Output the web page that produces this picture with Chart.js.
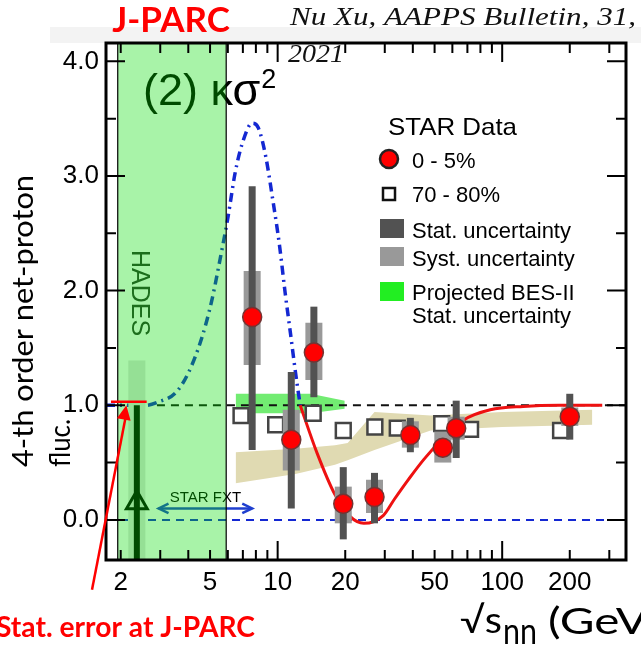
<!DOCTYPE html>
<html>
<head>
<meta charset="utf-8">
<script src="https://cdn.jsdelivr.net/npm/chart.js@4.4.1/dist/chart.umd.min.js"></script>
<style>
  html, body { margin: 0; padding: 0; background: #fff; }
  #wrap { width: 641px; height: 649px; position: relative; }
</style>
</head>
<body>
<div id="wrap"><canvas id="kappaChart"></canvas></div>
<script>
// STAR 0-5% central (red circles)
const ENERGY = [7.7, 11.5, 14.5, 19.6, 27, 39, 54.4, 62.4, 200];
const KS2_CENTRAL = [1.77, 0.70, 1.46, 0.14, 0.20, 0.74, 0.63, 0.80, 0.90];
const STAT_LOW  = [0.61, 0.10, 1.07, -0.17, -0.03, 0.59, 0.56, 0.54, 0.70];
const STAT_HIGH = [2.91, 1.29, 1.86, 0.46, 0.41, 0.89, 0.70, 1.04, 1.10];
const SYST_LOW  = [1.35, 0.43, 1.22, -0.03, 0.06, 0.63, 0.50, 0.70, 0.82];
const SYST_HIGH = [2.17, 0.96, 1.72, 0.29, 0.35, 0.86, 0.77, 0.90, 0.98];

// STAR 70-80% peripheral (open squares)
const ENERGY_PERIPH = [6.87, 9.8, 14.4, 19.6, 27.1, 34.1, 53.8, 72.3, 182];
const KS2_PERIPH = [0.91, 0.83, 0.93, 0.78, 0.81, 0.80, 0.84, 0.79, 0.78];

// J-PARC projection
const JPARC_E = [2.36];
const JPARC_K = [0.15];
const JPARC_STAT = [-0.7, 1.0];
const JPARC_SYST = [-1.1, 1.39];
const JPARC_RANGE = [1.94, 5.9];

// blue dash-dot model curve
const MODEL_E = [1.72, 2.6, 2.96, 3.52, 4.02, 4.58, 5.07, 5.55, 6.02, 6.47, 7.0, 7.7, 8.2, 8.85, 9.5, 10.2, 10.8, 11.4, 12.0, 12.6];
const MODEL_K = [1.0, 1.0, 1.03, 1.11, 1.29, 1.58, 1.90, 2.28, 2.65, 3.03, 3.30, 3.46, 3.42, 3.17, 2.80, 2.39, 1.98, 1.63, 1.29, 1.0];

// red fit curve
const FIT_E = [12.6, 15.0, 18.0, 21.0, 24.2, 29.6, 33.1, 38.5, 44.9, 53.3, 67.3, 88.5, 124, 180, 279];
const FIT_K = [1.0, 0.58, 0.22, 0.03, -0.03, 0.04, 0.18, 0.36, 0.53, 0.69, 0.87, 0.96, 0.99, 1.0, 1.0];

// tan band
const BAND_E  = [6.5, 12, 18, 20.5, 27, 48, 100, 252];
const BAND_HI = [0.59, 0.62, 0.65, 0.67, 0.94, 0.91, 0.94, 0.96];
const BAND_LO = [0.32, 0.40, 0.48, 0.52, 0.61, 0.78, 0.81, 0.83];

// projected BES-II band
const BES2_E  = [6.5, 14, 19.9];
const BES2_HI = [1.10, 1.10, 1.04];
const BES2_LO = [0.93, 0.93, 0.97];

// reference lines
const UNITY_E = [2.9, 356];
const ZERO_E = [1.72, 356];
const FXT_RANGE = [2.95, 7.7];
const FXT_LEVEL = 0.1;

// axes
const X_LABELS = [2, 5, 10, 20, 50, 100, 200];
const X_MAJOR = [10, 100];
const X_MINOR = [2, 3, 4, 5, 6, 7, 8, 9, 20, 30, 40, 50, 60, 70, 80, 90, 200, 300];
const Y_LABELS = [0, 1, 2, 3, 4];
const Y_MINOR = [0.5, 1.5, 2.5, 3.5];

const LEGEND_LABELS = ['0 - 5%', '70 - 80%', 'Stat. uncertainty', 'Syst. uncertainty', 'Projected BES-II', 'Stat. uncertainty'];

const COLORS = {
    stat: '#525252',
    syst: '#999999',
    red: '#ff0000',
    blue: '#1428d2',
    tan: '#e0dab2',
    bes: '#72ec72',
    jparc: 'rgba(0, 220, 0, 0.34)'
};

const pts = (xs, ys) => xs.map((x, i) => ({ x: x, y: ys[i] }));

// 세로 막대 (오차 막대)
function bar(x, lo, hi, color, width, order) {
    return {
        data: [{ x: x, y: lo }, { x: x, y: hi }],
        borderColor: color,
        borderWidth: width,
        borderCapStyle: 'butt',
        pointRadius: 0,
        showLine: true,
        fill: false,
        clip: 0,
        order: order
    };
}

const datasets = [];

// bands
datasets.push({ data: pts(BAND_E, BAND_HI), borderWidth: 0, pointRadius: 0, fill: '+1', backgroundColor: COLORS.tan, order: 100, clip: 0 });
datasets.push({ data: pts(BAND_E, BAND_LO), borderWidth: 0, pointRadius: 0, fill: false, order: 101, clip: 0 });
datasets.push({ data: pts(BES2_E, BES2_HI), borderWidth: 0, pointRadius: 0, fill: '+1', backgroundColor: COLORS.bes, order: 98, clip: 0 });
datasets.push({ data: pts(BES2_E, BES2_LO), borderWidth: 0, pointRadius: 0, fill: false, order: 99, clip: 0 });

// dashed lines
datasets.push({ data: pts(UNITY_E, [1, 1]), borderColor: '#111', borderWidth: 2, borderDash: [8, 6], pointRadius: 0, fill: false, order: 90, clip: 0 });
datasets.push({ data: pts(ZERO_E, [0, 0]), borderColor: COLORS.blue, borderWidth: 2, borderDash: [8, 6], pointRadius: 0, fill: false, order: 90, clip: 0 });

// curves
datasets.push({ data: pts(MODEL_E, MODEL_K), borderColor: COLORS.blue, borderWidth: 3.5, borderDash: [9, 5, 2, 5], cubicInterpolationMode: 'monotone', pointRadius: 0, fill: false, order: 80, clip: 0 });
datasets.push({ data: pts(FIT_E, FIT_K), borderColor: '#ee1111', borderWidth: 3, cubicInterpolationMode: 'monotone', pointRadius: 0, fill: false, order: 79, clip: 0 });

// peripheral squares
datasets.push({ data: pts(ENERGY_PERIPH, KS2_PERIPH), showLine: false, pointStyle: 'rect', pointRadius: 10.5, backgroundColor: '#ffffff', borderColor: '#444', borderWidth: 2.5, order: 60, clip: 0 });

// error bars
ENERGY.forEach((e, i) => {
    datasets.push(bar(e, SYST_LOW[i], SYST_HIGH[i], COLORS.syst, 17, 50));
    datasets.push(bar(e, STAT_LOW[i], STAT_HIGH[i], COLORS.stat, 7, 40));
});

// central circles
datasets.push({ data: pts(ENERGY, KS2_CENTRAL), showLine: false, pointStyle: 'circle', pointRadius: 9.5, backgroundColor: COLORS.red, borderColor: '#743434', borderWidth: 1.5, order: 10, clip: 0 });

// J-PARC projection (drawn under the green band)
datasets.push(bar(JPARC_E[0], JPARC_SYST[0], JPARC_SYST[1], '#e2e2e2', 17, 30));
datasets.push(bar(JPARC_E[0], JPARC_STAT[0], JPARC_STAT[1], '#000000', 6, 20));
datasets.push({ data: pts(JPARC_E, JPARC_K), showLine: false, pointStyle: 'triangle', pointRadius: 12, backgroundColor: 'rgba(0,0,0,0)', borderColor: '#000', borderWidth: 3, order: 5, clip: 0 });

function arrowHead(ctx, x0, y0, x1, y1, size, open) {
    const ang = Math.atan2(y1 - y0, x1 - x0);
    ctx.beginPath();
    ctx.moveTo(x1 - size * Math.cos(ang - 0.45), y1 - size * Math.sin(ang - 0.45));
    ctx.lineTo(x1, y1);
    ctx.lineTo(x1 - size * Math.cos(ang + 0.45), y1 - size * Math.sin(ang + 0.45));
    if (open) {
        ctx.stroke();
    } else {
        ctx.closePath();
        ctx.fill();
    }
}

// 텍스트를 주어진 폭에 맞춰 가로로 늘림/줄임
function fitText(ctx, text, x, y, width, measured) {
    const w = ctx.measureText(measured || text).width;
    ctx.save();
    ctx.translate(x, y);
    ctx.scale(width / w, 1);
    ctx.fillText(text, 0, 0);
    ctx.restore();
}

const decorations = {
    id: 'decorations',
    beforeDraw(chart) {
        const ctx = chart.ctx;
        ctx.save();
        ctx.fillStyle = '#f3f3f3';
        ctx.fillRect(50, 27, 591, 16);
        ctx.restore();
    },
    beforeDatasetsDraw(chart) {
        const { ctx, scales: { x, y } } = chart;
        ctx.save();
        // (2) κσ²
        ctx.fillStyle = '#000';
        ctx.textBaseline = 'alphabetic';
        ctx.textAlign = 'left';
        ctx.font = '45px "Liberation Sans"';
        ctx.fillText('(2) κσ', 143, 105);
        const w = ctx.measureText('(2) κσ').width;
        ctx.font = '27px "Liberation Sans"';
        ctx.fillText('2', 143 + w + 1, 88);

        // STAR FXT arrow
        const xa = x.getPixelForValue(FXT_RANGE[0]);
        const xb = x.getPixelForValue(FXT_RANGE[1]);
        const ya = y.getPixelForValue(FXT_LEVEL);
        ctx.strokeStyle = '#1f3fcf';
        ctx.lineWidth = 2.5;
        ctx.beginPath();
        ctx.moveTo(xa, ya);
        ctx.lineTo(xb, ya);
        ctx.stroke();
        arrowHead(ctx, xb, ya, xa, ya, 11, true);
        arrowHead(ctx, xa, ya, xb, ya, 11, true);
        ctx.fillStyle = '#000';
        ctx.font = '15px "Liberation Sans"';
        ctx.textAlign = 'center';
        ctx.fillText('STAR FXT', (xa + xb) / 2, ya - 6);
        ctx.restore();
    },
    afterDatasetsDraw(chart) {
        const { ctx, chartArea: a, scales: { x, y } } = chart;
        ctx.save();
        // J-PARC band
        const x0 = x.getPixelForValue(JPARC_RANGE[0]);
        const x1 = x.getPixelForValue(JPARC_RANGE[1]);
        ctx.fillStyle = COLORS.jparc;
        ctx.fillRect(x0, a.top, x1 - x0, a.bottom - a.top);
        ctx.strokeStyle = '#000';
        ctx.lineWidth = 1.2;
        ctx.beginPath();
        ctx.moveTo(x0, a.top); ctx.lineTo(x0, a.bottom);
        ctx.moveTo(x1, a.top); ctx.lineTo(x1, a.bottom);
        ctx.stroke();

        // HADES
        ctx.save();
        ctx.translate(132, 250);
        ctx.rotate(Math.PI / 2);
        ctx.fillStyle = '#1c6e1c';
        ctx.font = '25px "Liberation Sans"';
        ctx.textAlign = 'left';
        ctx.textBaseline = 'alphabetic';
        ctx.fillText('HADES', 0, 0);
        ctx.restore();

        // frame and inward ticks
        ctx.strokeStyle = '#000';
        ctx.lineWidth = 3;
        ctx.strokeRect(a.left, a.top, a.right - a.left, a.bottom - a.top);
        ctx.lineWidth = 2;
        ctx.beginPath();
        const xt = (v, len) => {
            const px = x.getPixelForValue(v);
            ctx.moveTo(px, a.bottom); ctx.lineTo(px, a.bottom - len);
            ctx.moveTo(px, a.top); ctx.lineTo(px, a.top + len);
        };
        const yt = (v, len) => {
            const py = y.getPixelForValue(v);
            ctx.moveTo(a.left, py); ctx.lineTo(a.left + len, py);
            ctx.moveTo(a.right, py); ctx.lineTo(a.right - len, py);
        };
        X_MINOR.forEach(v => xt(v, 10));
        X_MAJOR.forEach(v => xt(v, 19));
        Y_MINOR.forEach(v => yt(v, 10));
        Y_LABELS.forEach(v => yt(v, 19));
        ctx.stroke();

        // red J-PARC stat error marker + arrow
        ctx.strokeStyle = '#ff0000';
        ctx.fillStyle = '#ff0000';
        ctx.lineWidth = 2.5;
        const ry = y.getPixelForValue(1.03);
        ctx.beginPath();
        ctx.moveTo(x.getPixelForValue(1.81), ry);
        ctx.lineTo(x.getPixelForValue(2.61), ry);
        ctx.stroke();
        const tx = x.getPixelForValue(1.49), ty = y.getPixelForValue(-0.61);
        const hx = x.getPixelForValue(2.12), hy = y.getPixelForValue(1.0);
        ctx.beginPath();
        ctx.moveTo(tx, ty);
        ctx.lineTo(hx, hy + 8);
        ctx.stroke();
        arrowHead(ctx, tx, ty, hx, hy, 16, false);
        ctx.restore();
    },
    afterDraw(chart) {
        const ctx = chart.ctx;
        ctx.save();
        ctx.textBaseline = 'alphabetic';

        // legend
        ctx.fillStyle = '#000';
        ctx.textAlign = 'left';
        ctx.font = '24px "Liberation Sans"';
        fitText(ctx, 'STAR Data', 388, 135, 129);
        ctx.font = '22px "Liberation Sans"';
        ctx.beginPath();
        ctx.arc(389, 159, 9, 0, Math.PI * 2);
        ctx.fillStyle = COLORS.red;
        ctx.fill();
        ctx.lineWidth = 2.5;
        ctx.strokeStyle = '#222';
        ctx.stroke();
        ctx.lineWidth = 2.5;
        ctx.strokeStyle = '#111';
        ctx.strokeRect(383, 188, 12, 12);
        ctx.fillStyle = COLORS.stat;
        ctx.fillRect(380, 219, 24, 19);
        ctx.fillStyle = COLORS.syst;
        ctx.fillRect(380, 247, 24, 19);
        ctx.fillStyle = '#22ee22';
        ctx.fillRect(380, 282, 24, 19);
        ctx.fillStyle = '#000';
        const rows = [168, 202, 238, 266, 300, 323];
        LEGEND_LABELS.forEach((t, i) => ctx.fillText(t, 412, rows[i]));

        // y title
        ctx.save();
        ctx.translate(33, 467);
        ctx.rotate(-Math.PI / 2);
        ctx.font = '28px Lato';
        fitText(ctx, '4-th order net-proton', 0, 0, 292);
        fitText(ctx, 'fluc.', 0, 37, 48);
        ctx.restore();

        // x title √s_nn (GeV) — runs past the right edge
        ctx.font = '36px Lato';
        fitText(ctx, '√s', 460, 633, 42);
        fitText(ctx, 'nn', 503, 644, 34);
        fitText(ctx, '(GeV)', 548, 634, 100, '(GeV');

        // red annotations
        ctx.fillStyle = '#ff0000';
        ctx.font = 'bold 35px Lato';
        ctx.textAlign = 'center';
        ctx.fillText('J-PARC', 171, 32);
        ctx.textAlign = 'left';
        ctx.font = 'bold 28px Lato';
        fitText(ctx, 'Stat. error at J-PARC', -4, 637, 259);

        // citation
        ctx.fillStyle = '#111';
        ctx.font = 'italic 26px "Liberation Serif"';
        fitText(ctx, 'Nu Xu, AAPPS Bulletin, 31,', 290, 25, 346);
        fitText(ctx, '2021', 288, 62, 56);
        ctx.restore();
    }
};

new Chart(document.getElementById('kappaChart'), {
    type: 'line',
    data: { datasets: datasets },
    options: {
        responsive: true,
        maintainAspectRatio: false,
        animation: false,
        events: [],
        layout: { padding: { left: 0, right: 9, top: 43, bottom: 0 } },
        plugins: {
            legend: { display: false },
            tooltip: { enabled: false }
        },
        scales: {
            x: {
                type: 'logarithmic',
                min: 1.72,
                max: 356,
                bounds: 'data',
                grid: { display: false, drawTicks: false },
                border: { display: false },
                afterBuildTicks: scale => { scale.ticks = X_LABELS.map(v => ({ value: v })); },
                afterFit: scale => { scale.height = 89; },
                ticks: {
                    autoSkip: false,
                    maxRotation: 0,
                    padding: 7,
                    color: '#000',
                    font: { family: 'Liberation Sans', size: 26 },
                    callback: v => String(v)
                }
            },
            y: {
                type: 'linear',
                min: -0.35,
                max: 4.16,
                grid: { display: false, drawTicks: false },
                border: { display: false },
                afterBuildTicks: scale => { scale.ticks = Y_LABELS.map(v => ({ value: v })); },
                afterFit: scale => { scale.width = 106; },
                ticks: {
                    padding: 7,
                    color: '#000',
                    font: { family: 'Liberation Sans', size: 26 },
                    callback: v => Number(v).toFixed(1)
                }
            }
        }
    },
    plugins: [decorations]
});
</script>
</body>
</html>
